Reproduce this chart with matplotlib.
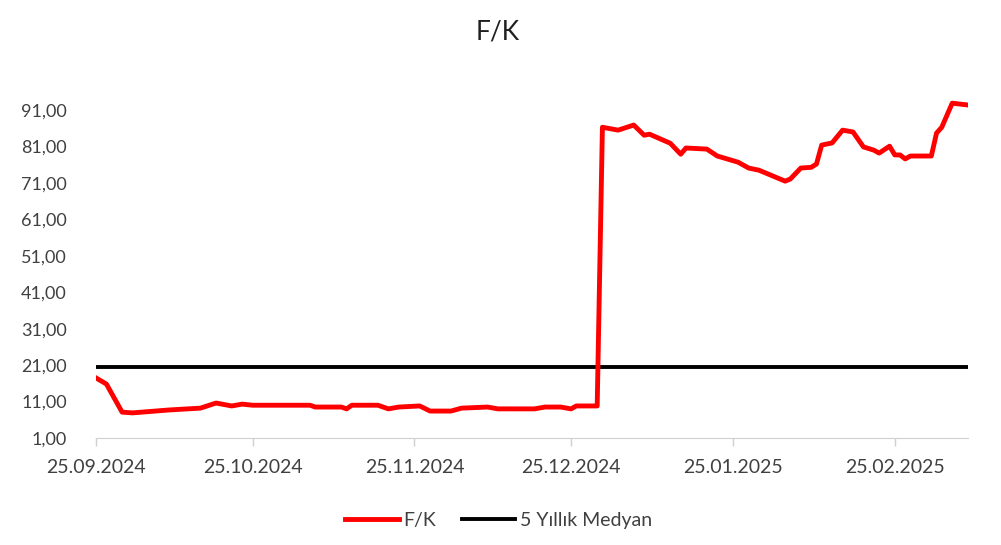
import matplotlib
matplotlib.use("Agg")
import matplotlib.pyplot as plt
import matplotlib.dates as mdates
import pandas as pd
from matplotlib.ticker import FuncFormatter

# F/K series
dates = [
    "2024-09-25", "2024-09-27", "2024-09-30", "2024-10-02", "2024-10-09",
    "2024-10-15", "2024-10-18", "2024-10-21", "2024-10-23", "2024-10-25",
    "2024-11-05", "2024-11-06", "2024-11-11", "2024-11-12", "2024-11-13",
    "2024-11-18", "2024-11-20", "2024-11-22", "2024-11-26", "2024-11-28",
    "2024-12-02", "2024-12-04", "2024-12-09", "2024-12-11", "2024-12-18",
    "2024-12-20", "2024-12-23", "2024-12-25", "2024-12-26", "2024-12-30",
    "2024-12-31", "2025-01-03", "2025-01-06", "2025-01-08", "2025-01-09",
    "2025-01-13", "2025-01-15", "2025-01-16", "2025-01-20", "2025-01-22",
    "2025-01-26", "2025-01-28", "2025-01-30", "2025-02-04", "2025-02-05",
    "2025-02-07", "2025-02-09", "2025-02-10", "2025-02-11", "2025-02-13",
    "2025-02-15", "2025-02-17", "2025-02-19", "2025-02-21", "2025-02-22",
    "2025-02-24", "2025-02-25", "2025-02-26", "2025-02-27", "2025-02-28",
    "2025-03-04", "2025-03-05", "2025-03-06", "2025-03-08", "2025-03-11",
]
fk_values = [
    17.5, 15.8, 8.1, 7.9, 8.7,
    9.2, 10.6, 9.8, 10.3, 10.0,
    10.0, 9.5, 9.5, 9.0, 10.0,
    10.0, 9.0, 9.5, 9.8, 8.4,
    8.4, 9.2, 9.5, 9.0, 9.0,
    9.5, 9.5, 9.0, 9.8, 9.8,
    86.3, 85.5, 86.9, 84.1, 84.4,
    81.9, 78.9, 80.6, 80.3, 78.4,
    76.7, 75.1, 74.5, 71.5, 72.1,
    75.1, 75.3, 76.2, 81.4, 82.0,
    85.5, 85.0, 80.9, 80.0, 79.2,
    81.1, 78.7, 78.7, 77.6, 78.4,
    78.4, 84.7, 86.3, 92.9, 92.4,
]
median_5y = 20.6

x_ticks = ["2024-09-25", "2024-10-25", "2024-11-25", "2024-12-25",
           "2025-01-25", "2025-02-25"]
y_ticks = [1, 11, 21, 31, 41, 51, 61, 71, 81, 91]

x = pd.to_datetime(dates)
text_color = "#404040"

fig = plt.figure(figsize=(10.01, 5.45), dpi=100)
ax = fig.add_axes([0.0959, 0.1963, 0.871, 0.6284])

ax.plot(x, fk_values, color="#ff0000", linewidth=3.5, label="F/K",
        solid_joinstyle="round", zorder=3)
ax.plot([x[0], x[-1]], [median_5y, median_5y], color="black", linewidth=2.8,
        label="5 Yıllık Medyan", zorder=2)

ax.set_xlim(x[0], x[-1])
ax.set_ylim(1, 95)
ax.set_yticks(y_ticks)
ax.yaxis.set_major_formatter(FuncFormatter(lambda v, _: f"{v:.2f}".replace(".", ",")))
ax.set_xticks(pd.to_datetime(x_ticks))
ax.xaxis.set_major_formatter(mdates.DateFormatter("%d.%m.%Y"))

for side in ["top", "right", "left"]:
    ax.spines[side].set_visible(False)
ax.spines["bottom"].set_color("#d0d0d0")
ax.tick_params(axis="x", colors="#d0d0d0", length=6, width=1, labelcolor=text_color,
               labelsize=14, pad=9)
ax.tick_params(axis="y", length=0, labelcolor=text_color, labelsize=13, pad=21)
for lab in ax.get_xticklabels() + ax.get_yticklabels():
    lab.set_fontfamily("Lato")

fig.suptitle("F/K", x=0.497, y=0.965, fontsize=19, color="#202020", fontfamily="Lato")

leg = ax.legend(loc="upper center", bbox_to_anchor=(0.462, -0.165), ncol=2, frameon=False,
                prop={"family": "Lato", "size": 14}, handlelength=2.75, columnspacing=1.3,
                handletextpad=0.25)
for t in leg.get_texts():
    t.set_color(text_color)

fig.savefig("out.png", dpi=100, facecolor="white")
